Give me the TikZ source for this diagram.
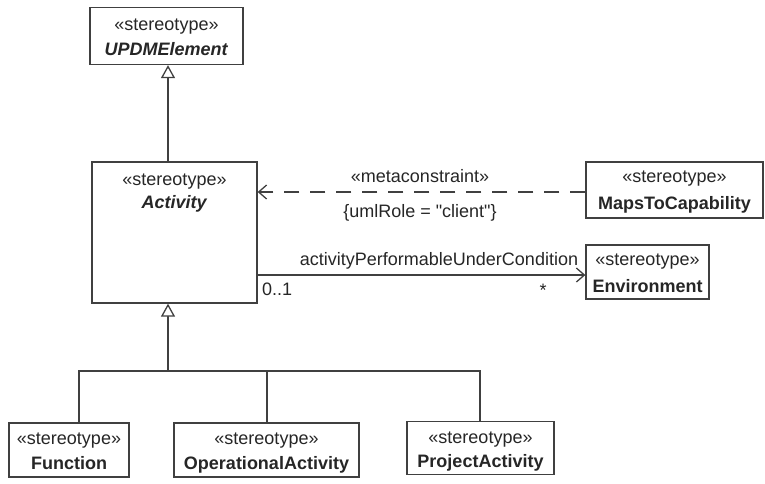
\documentclass[tikz,border=0pt]{standalone}
\usepackage{fontspec}
\setmainfont{Liberation Sans}[Ligatures=TeXOff]
\usetikzlibrary{arrows.meta}
\newcommand\stereo{«stereotype»}
\begin{document}
\begin{tikzpicture}[x=1pt,y=-1pt,
  lc/.style={draw=black!75, line width=1.3pt},
  umlbox/.style={lc, fill=white, inner sep=0pt},
  txt/.style={inner sep=0pt, text=black!85, font=\fontsize{18}{21}\selectfont},
  bl/.style={txt, anchor=base},
  gen/.style={lc, -{Triangle[open, length=13pt, width=14pt, fill=white]}},
  openarr/.style={lc, -{Straight Barb[length=8pt, width=14pt]}},
]
\useasboundingbox (0,0) rectangle (765,483);

% boxes
\node[umlbox, minimum width=153, minimum height=57] (upe) at (166.5,36) {};
\node[bl] (upe1) at (166.5,30) {\stereo};
\node[bl] (upe2) at (166.5,55) {\textbf{\textit{UPDMElement}}};

\node[umlbox, minimum width=165, minimum height=141] (act) at (174.5,232.5) {};
\node[bl] (act1) at (174.5,185) {\stereo};
\node[bl] (act2) at (174.5,208) {\textbf{\textit{Activity}}};

\node[umlbox, minimum width=177, minimum height=56] (maps) at (674.5,190) {};
\node[bl] (maps1) at (674.5,182) {\stereo};
\node[bl] (maps2) at (674.5,209) {\textbf{MapsToCapability}};

\node[umlbox, minimum width=123, minimum height=54] (env) at (647.5,272) {};
\node[bl] (env1) at (647.5,265) {\stereo};
\node[bl] (env2) at (647.5,292) {\textbf{Environment}};

\node[umlbox, minimum width=120, minimum height=54] (fun) at (69,450) {};
\node[bl] (fun1) at (69,444) {\stereo};
\node[bl] (fun2) at (69,469) {\textbf{Function}};

\node[umlbox, minimum width=185, minimum height=54] (opa) at (266.5,450) {};
\node[bl] (opa1) at (266.5,444) {\stereo};
\node[bl] (opa2) at (266.5,469) {\textbf{OperationalActivity}};

\node[umlbox, minimum width=147, minimum height=53] (pra) at (480.5,448) {};
\node[bl] (pra1) at (480.5,443) {\stereo};
\node[bl] (pra2) at (480.5,467) {\textbf{ProjectActivity}};

% generalization Activity -> UPDMElement
\coordinate (g1) at (168,0);
\draw[gen] (g1 |- act.north) -- (g1 |- upe.south);

% generalization subclasses -> Activity
\coordinate (j) at (168,371);
\coordinate (fj) at (79,0);
\coordinate (oj) at (267,0);
\coordinate (pj) at (480,0);
\draw[lc] (fj |- fun.north) |- (pj |- j) -- (pj |- pra.north);
\draw[lc] (oj |- opa.north) -- (oj |- j);
\draw[gen] (j) -- (j |- act.south);

% dependency
\coordinate (dy) at (0,192);
\draw[openarr, dash pattern=on 15pt off 11pt] (maps.west |- dy) -- (act.east |- dy);
\node[bl] (mc) at (420,182) {«metaconstraint»};
\node[bl] (ur) at (420,217) {\{umlRole = "client"\}};

% association
\coordinate (ay) at (0,275);
\draw[openarr] (act.east |- ay) -- (env.west |- ay);
\node[bl] (an) at (439,265) {activityPerformableUnderCondition};
\node[bl, anchor=base west] (m1) at (262,295) {0..1};
\node[bl] (m2) at (543,296) {*};
\end{tikzpicture}
\end{document}
